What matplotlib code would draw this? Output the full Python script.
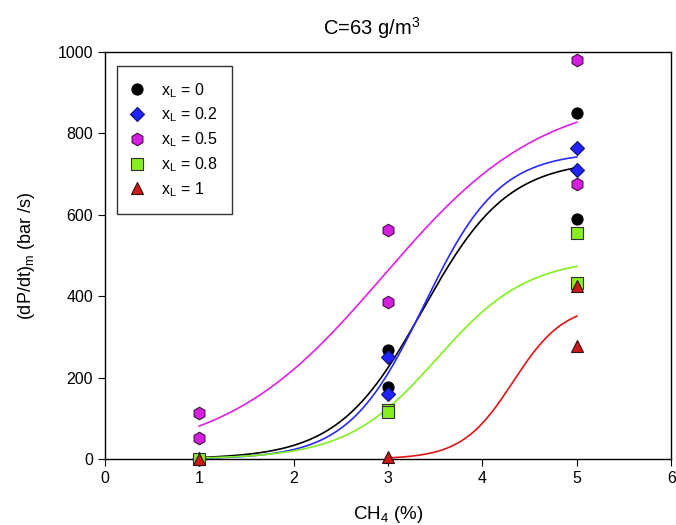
import numpy as np
import matplotlib
matplotlib.use("Agg")
import matplotlib.pyplot as plt

plt.rcParams['font.family'] = ['Liberation Sans', 'DejaVu Sans']

labels = ['$\\mathregular{x_L}$ = 0', '$\\mathregular{x_L}$ = 0.2', '$\\mathregular{x_L}$ = 0.5',
          '$\\mathregular{x_L}$ = 0.8', '$\\mathregular{x_L}$ = 1']

# measured points (CH4 %, dP/dt)
x0_pts = [1, 3, 3, 5, 5]
y0_pts = [0, 268, 177, 850, 590]
x02_pts = [1, 3, 3, 5, 5]
y02_pts = [0, 251, 160, 764, 710]
x05_pts = [1, 1, 3, 3, 5, 5]
y05_pts = [113, 52, 563, 386, 980, 676]
x08_pts = [1, 3, 3, 5, 5]
y08_pts = [0, 120, 115, 555, 432]
x1_pts = [1, 3, 5, 5]
y1_pts = [0, 5, 425, 278]

# sigmoid fit parameters: a, x0, b ; curve x range
fit_a = [735, 755, 900, 495, 380]
fit_x0 = [3.37, 3.38, 2.95, 3.52, 4.325]
fit_b = [0.45, 0.40, 0.842, 0.48, 0.271]
fit_xmin = [1, 1, 1, 1, 3]
fit_xmax = [5, 5, 5, 5, 5]

pt_x = [x0_pts, x02_pts, x05_pts, x08_pts, x1_pts]
pt_y = [y0_pts, y02_pts, y05_pts, y08_pts, y1_pts]
markers = ['o', 'D', 'h', 's', '^']
msizes = [8, 7, 9, 8, 8]
face = ['#000000', '#2222ff', '#d61ee0', '#88ee22', '#cc1a1a']
edge = ['#000000', '#101060', '#401040', '#303030', '#301010']
line_col = ['#000000', '#2a2aff', '#e020e8', '#80f020', '#dd1515']

fig = plt.figure(figsize=(6.76, 5.25), dpi=100)
ax = fig.add_axes([0.155, 0.1257, 0.838, 0.7753])

for i in range(5):
    xs = np.linspace(fit_xmin[i], fit_xmax[i], 200)
    ys = fit_a[i] / (1 + np.exp(-(xs - fit_x0[i]) / fit_b[i]))
    ax.plot(xs, ys, color=line_col[i], lw=1.2, zorder=2)

for i in range(5):
    ax.plot(pt_x[i], pt_y[i], linestyle='none', marker=markers[i], ms=msizes[i],
            mfc=face[i], mec=edge[i], mew=0.8, label=labels[i], zorder=3, clip_on=False)

ax.set_xlim(0, 6)
ax.set_ylim(0, 1000)
ax.set_xticks(range(7))
ax.set_yticks([0, 200, 400, 600, 800, 1000])
ax.tick_params(direction='out', length=5, labelsize=11.5)
fig.text(0.549, 0.947, 'C=63 g/m$^\\mathregular{3}$', fontsize=14.5, ha='center', va='center')
ax.set_xlabel('CH$_\\mathregular{4}$ (%)', fontsize=13.5, labelpad=13)
ax.set_ylabel('(dP/dt)$_\\mathregular{m}$ (bar /s)', fontsize=13, labelpad=15)
for s in ax.spines.values():
    s.set_linewidth(1.0)

leg = ax.legend(loc='upper left', bbox_to_anchor=(0.021, 0.966), borderaxespad=0,
                frameon=True, fancybox=False, edgecolor='black', fontsize=11.5,
                handletextpad=1.2, labelspacing=0.38, borderpad=0.95, handlelength=0.6)
leg.get_frame().set_linewidth(1.0)

fig.savefig('out.png', dpi=100)
